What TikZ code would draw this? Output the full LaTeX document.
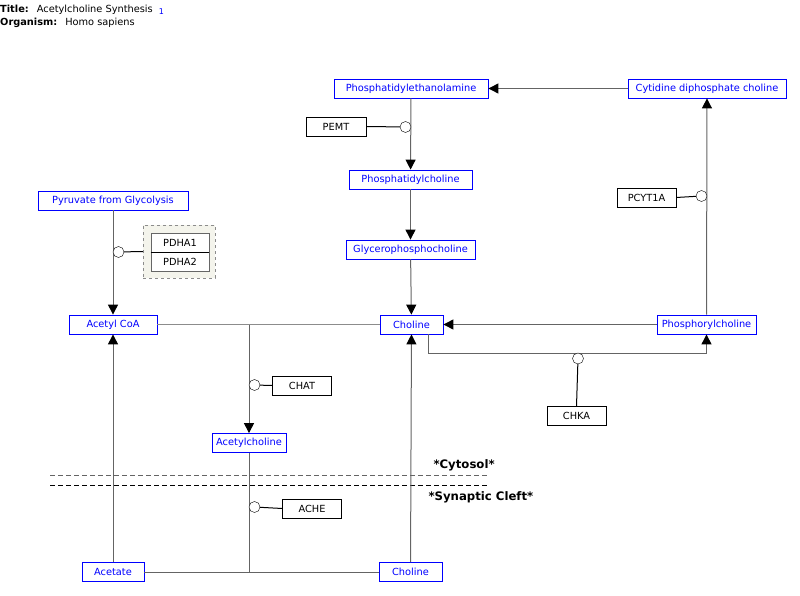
\documentclass[tikz,border=0pt]{standalone}
\usepackage{fontspec}
\setmainfont{DejaVu Sans}
\usetikzlibrary{arrows.meta}
\definecolor{metblue}{RGB}{0, 0, 255}
\definecolor{grpfill}{RGB}{244, 244, 236}
\definecolor{linegray}{RGB}{100, 100, 100}

\begin{document}
\begin{tikzpicture}[x=1pt, y=-1pt,
        metab/.style={draw=metblue, text=metblue, thick, inner sep=0pt,
            minimum height=19pt, font=\fontsize{9.8}{11}\selectfont},
        gene/.style={draw=black, fill=white, inner sep=0pt,
            minimum width=59pt, minimum height=19pt,
            font=\fontsize{9.8}{11}\selectfont},
        cat/.style={circle, draw=black, fill=white, inner sep=0pt,
            minimum size=11pt},
        rxn/.style={draw=linegray, line width=1pt},
        conv/.style={rxn, -{Triangle[length=10pt, width=10pt, color=black]}},
        catl/.style={draw=black, line width=1pt},
        comp/.style={anchor=west, font=\fontsize{11.7}{13}\selectfont\bfseries}
    ]
    \useasboundingbox (0, 0) rectangle (800, 596);

    % header
    \node[anchor=west, inner sep=0pt, font=\fontsize{9.8}{11}\selectfont] (title) at (0, 10)
        {\textbf{Title:}\hspace{8pt}Acetylcholine Synthesis\hspace{6pt}{\color{metblue}\raisebox{-2.5pt}{\fontsize{8}{9}\selectfont 1}}};
    \node[anchor=west, inner sep=0pt, font=\fontsize{9.8}{11}\selectfont] (org) at (0, 23)
        {\textbf{Organism:}\hspace{8pt}Homo sapiens};

    % metabolites
    \node[metab, minimum width=154pt] (pe) at (411, 88.5) {Phosphatidylethanolamine};
    \node[metab, minimum width=158pt] (cdp) at (707, 88.5) {Cytidine diphosphate choline};
    \node[metab, minimum width=123pt] (pc) at (410.5, 179.5) {Phosphatidylcholine};
    \node[metab, minimum width=129pt] (gpc) at (410.5, 249.5) {Glycerophosphocholine};
    \node[metab, minimum width=150pt] (pyr) at (113, 200.5) {Pyruvate from Glycolysis};
    \node[metab, minimum width=88pt] (acoa) at (113, 324.5) {Acetyl CoA};
    \node[metab, minimum width=63pt] (cho) at (411.5, 324.5) {Choline};
    \node[metab, minimum width=99pt] (phc) at (706.5, 324.5) {Phosphorylcholine};
    \node[metab, minimum width=74pt] (ach) at (249, 443) {Acetylcholine};
    \node[metab, minimum width=62pt] (ace) at (113, 572) {Acetate};
    \node[metab, minimum width=63pt] (chob) at (410.5, 572) {Choline};

    % genes
    \node[gene, minimum width=60pt] (pemt) at (336, 126.5) {PEMT};
    \node[gene] (pcyt) at (646.5, 197.5) {PCYT1A};
    \node[gene] (chat) at (302, 385.5) {CHAT};
    \node[gene] (chka) at (576.5, 416) {CHKA};
    \node[gene] (ache) at (312, 508.5) {ACHE};
    \node[draw=black!45, dashed, fill=grpfill, minimum width=72pt, minimum height=53pt,
        inner sep=0pt] (pdh) at (179, 251.5) {};
    \node[gene, draw=black!60, thick, minimum width=58pt] (pdha1) at (180, 242.5) {PDHA1};
    \node[gene, draw=black!60, thick, minimum width=58pt] (pdha2) at (180, 261.5) {PDHA2};
    \draw[black] (pdha1.south west) -- (pdha1.south east);

    % compartments
    \draw[dashed, dash pattern=on 5pt off 3pt, linegray] (50, 475) -- (487, 475);
    \draw[dashed, dash pattern=on 5pt off 3pt, black] (50, 485) -- (488, 485);
    \node[comp] (cyto) at (430, 465) {*Cytosol*};
    \node[comp] (cleft) at (425, 497) {*Synaptic Cleft*};

    % conversions
    \draw[conv] (cdp) -- (pe);
    \draw[conv] (pe) -- (pc);
    \draw[conv] (pc) -- (gpc);
    \draw[conv] (gpc) -- (cho);
    \draw[conv] (phc) -- (cdp);
    \draw[conv] (phc) -- (cho);
    \draw[conv] (pyr) -- (acoa);
    \draw[conv] (ace) -- (acoa);
    \draw[conv] (chob) -- (cho);
    \draw[conv] ([xshift=-15pt]cho.south east) -- ++(0, 19) coordinate (kj) -| (phc.south);

    \coordinate (jt) at (249, 324.5);
    \coordinate (jb) at (249, 572);
    \draw[rxn, draw=black!45] (acoa) -- (cho);
    \draw[conv] (jt) -- (ach);
    \draw[rxn] (ach) -- (jb);
    \draw[rxn] (ace) -- (chob);

    % catalysis
    \node[cat] (c-pemt) at (405.5, 127) {};
    \node[cat] (c-pcyt) at (701.5, 196) {};
    \node[cat] (c-pdh) at (118.5, 252) {};
    \node[cat] (c-chat) at (254.5, 385) {};
    \node[cat] (c-chka) at (578, 358.5) {};
    \node[cat] (c-ache) at (254.5, 507) {};
    \draw[catl] (pemt.east) -- (c-pemt);
    \draw[catl] (pcyt.east) -- (c-pcyt);
    \draw[catl] (pdh.west) -- (c-pdh);
    \draw[catl] (chat.west) -- (c-chat);
    \draw[catl] (chka.north) -- (c-chka);
    \draw[catl] (ache.west) -- (c-ache);
\end{tikzpicture}
\end{document}
